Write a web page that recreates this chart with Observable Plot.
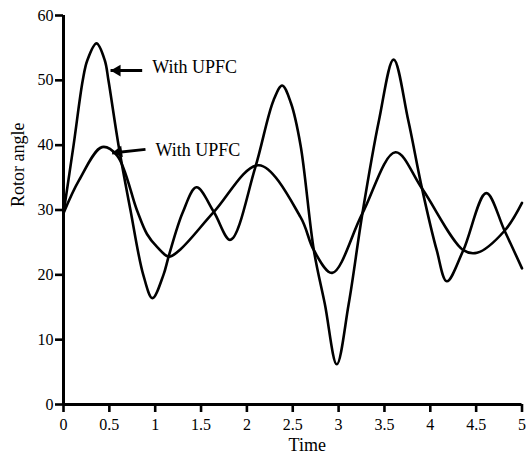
<!DOCTYPE html>
<html><head><meta charset="utf-8">
<script src="https://cdn.jsdelivr.net/npm/d3@7"></script>
<script src="https://cdn.jsdelivr.net/npm/@observablehq/plot@0.6"></script>
<style>body{margin:0;background:#fff}</style>
</head><body><div id="chart"></div>
<script>
// Series A (larger oscillation)
const timeA  = [0, 0.11, 0.21, 0.26, 0.36, 0.45, 0.49, 0.60, 0.73, 0.87, 0.97, 1.09, 1.15, 1.30, 1.45, 1.64, 1.82, 2.09, 2.29, 2.385, 2.48, 2.585, 2.73, 2.85, 2.98, 3.11, 3.26, 3.44, 3.60, 3.76, 3.91, 4.07, 4.18, 4.36, 4.61, 4.81, 5.00];
const angleA = [29.5, 40, 50, 53.1, 55.7, 53.1, 50, 40, 30, 20, 16.4, 20, 23, 29.6, 33.5, 29.7, 25.4, 36.5, 46.9, 49.2, 46.5, 40.0, 23.8, 15.5, 6.2, 15.5, 29.5, 43.8, 53.2, 43.8, 33.3, 23.8, 19.0, 23.8, 32.6, 26.8, 21.0];
// Series B (smaller oscillation)
const timeB  = [0, 0.17, 0.42, 0.585, 0.80, 0.91, 1.02, 1.15, 1.28, 1.64, 2.13, 2.585, 2.73, 2.93, 3.257, 3.62, 3.91, 4.36, 4.51, 4.81, 5.00];
const angleB = [29.5, 34.6, 39.7, 38.4, 30, 26.3, 24.3, 22.8, 24.0, 29.7, 36.9, 28.9, 23.8, 20.3, 29.4, 38.9, 33.3, 23.8, 23.4, 26.8, 31.1];

const xTicks = [0, 0.5, 1, 1.5, 2, 2.5, 3, 3.5, 4, 4.5, 5];
const yTicks = [0, 10, 20, 30, 40, 50, 60];

// Annotations
const annotationLabels = ["With UPFC", "With UPFC"];
const arrowTipTime   = [0.513, 0.53];
const arrowTipAngle  = [51.5, 38.8];
const arrowTailTime  = [0.858, 0.894];
const arrowTailAngle = [51.5, 39.35];
const labelTime      = [0.967, 1.003];
const labelAngle     = [51.2, 38.3];

const seriesA = timeA.map((t, i) => ({t, v: angleA[i]}));
const seriesB = timeB.map((t, i) => ({t, v: angleB[i]}));
const notes = annotationLabels.map((label, i) => ({
  label,
  tipT: arrowTipTime[i], tipV: arrowTipAngle[i],
  tailT: arrowTailTime[i], tailV: arrowTailAngle[i],
  lt: labelTime[i], lv: labelAngle[i]
}));

const font = "'Liberation Serif', 'Times New Roman', serif";

const chart = Plot.plot({
  width: 526,
  height: 456,
  marginLeft: 63,
  marginRight: 4.5,
  marginTop: 15,
  marginBottom: 52,
  style: {fontFamily: font, fontSize: "16px", color: "black", background: "white"},
  x: {domain: [0, 5]},
  y: {domain: [0, 60]},
  marks: [
    Plot.line(seriesA, {x: "t", y: "v", curve: "catmull-rom", stroke: "black", strokeWidth: 2.6}),
    Plot.line(seriesB, {x: "t", y: "v", curve: "catmull-rom", stroke: "black", strokeWidth: 2.6}),
    Plot.link(notes, {x1: "tipT", y1: "tipV", x2: "tailT", y2: "tailV", stroke: "black", strokeWidth: 3}),
    Plot.dot(notes.slice(0, 1), {x: "tipT", y: "tipV", symbol: "triangle", r: 4.3, fill: "black", stroke: null, rotate: -90, dx: 6.7}),
    Plot.dot(notes.slice(1, 2), {x: "tipT", y: "tipV", symbol: "triangle", r: 4.3, fill: "black", stroke: null, rotate: -98, dx: 6.6, dy: -0.9}),
    Plot.text(notes, {x: "lt", y: "lv", text: "label", textAnchor: "start", lineAnchor: "bottom", fontSize: 18, fontFamily: font, fill: "black"}),
    Plot.ruleX([0], {stroke: "black", strokeWidth: 3}),
    Plot.ruleY([0], {stroke: "black", strokeWidth: 3}),
    Plot.axisX({ticks: xTicks, tickFormat: d => String(d), tickSize: 8, tickPadding: 6, strokeWidth: 2.6, fontSize: 16, fontFamily: font, label: null, fill: "black"}),
    Plot.axisY({ticks: yTicks, tickFormat: d => String(d), tickSize: 8, tickPadding: 2, strokeWidth: 2.6, fontSize: 16, fontFamily: font, label: null, fill: "black"}),
    Plot.text(["Time"], {frameAnchor: "bottom", dx: 14.5, dy: 46, lineAnchor: "bottom", fontSize: 18, fontFamily: font, fill: "black"}),
    Plot.text(["Rotor angle"], {frameAnchor: "left", dx: -45, dy: -3, rotate: -90, lineAnchor: "middle", fontSize: 18, fontFamily: font, fill: "black"})
  ]
});
document.getElementById("chart").appendChild(chart);
</script>
</body></html>
